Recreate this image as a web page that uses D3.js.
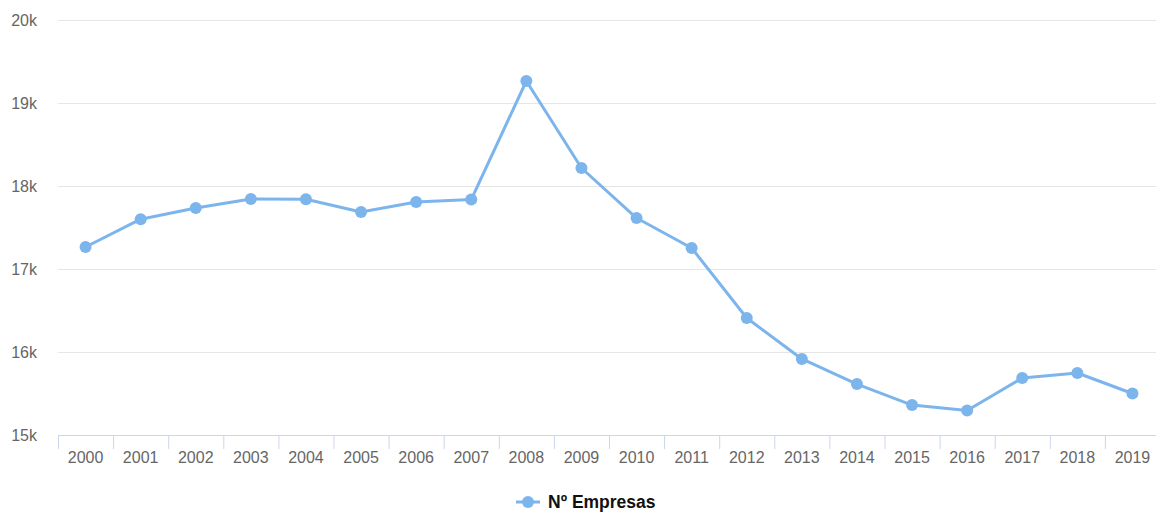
<!DOCTYPE html>
<html>
<head>
<meta charset="utf-8">
<script src="https://cdn.jsdelivr.net/npm/d3@7"></script>
<style>
  body { margin: 0; background: #fff; }
  svg { font-family: "Liberation Sans", Arial, sans-serif; }
</style>
</head>
<body>
<div id="chart"></div>
<script>
// chart data
var years = ['2000', '2001', '2002', '2003', '2004', '2005', '2006', '2007', '2008', '2009',
    '2010', '2011', '2012', '2013', '2014', '2015', '2016', '2017', '2018', '2019'];
var empresas = [17265, 17600, 17735, 17843, 17840, 17687, 17807, 17837, 19265, 18217,
    17614, 17253, 16410, 15916, 15614, 15361, 15295, 15687, 15747, 15500];
var yTicks = [15000, 16000, 17000, 18000, 19000, 20000];
var seriesName = 'Nº Empresas';

var width = 1156, height = 513;
var margin = { top: 20, right: 0, bottom: 78, left: 58 };
var innerW = 1102, innerH = height - margin.top - margin.bottom;

var svg = d3.select('#chart').append('svg')
    .attr('width', width)
    .attr('height', height);

var g = svg.append('g')
    .attr('transform', 'translate(' + margin.left + ',' + margin.top + ')');

var x = d3.scaleBand().domain(years).range([0, innerW]);
var y = d3.scaleLinear().domain([15000, 20000]).range([innerH, 0]);

// grid lines
g.selectAll('.grid')
    .data(yTicks)
    .enter().append('line')
    .attr('x1', 0)
    .attr('x2', innerW)
    .attr('y1', function (d) { return y(d) + 0.5; })
    .attr('y2', function (d) { return y(d) + 0.5; })
    .style('stroke', '#e6e6e6')
    .style('stroke-width', 1);

// y labels
g.selectAll('.ylab')
    .data(yTicks)
    .enter().append('text')
    .attr('x', -21)
    .attr('y', function (d) { return y(d) + 6; })
    .attr('text-anchor', 'end')
    .style('fill', '#666')
    .style('font-size', '16px')
    .text(function (d) { return (d / 1000) + 'k'; });

// x axis
var xAxis = d3.axisBottom(x).tickSize(0).tickPadding(0);
var xg = g.append('g')
    .attr('transform', 'translate(0,' + innerH + ')')
    .call(xAxis);
xg.select('.domain').remove();
xg.selectAll('text')
    .attr('y', 17)
    .style('fill', '#666')
    .style('font-size', '16px')
    .style('font-family', '"Liberation Sans", Arial, sans-serif');

xg.append('line')
    .attr('x1', 0).attr('x2', innerW)
    .attr('y1', 0.5).attr('y2', 0.5)
    .style('stroke', '#ccd6eb');

xg.selectAll('.tickmark')
    .data(years)
    .enter().append('line')
    .attr('x1', function (d) { return x(d) + 0.5; })
    .attr('x2', function (d) { return x(d) + 0.5; })
    .attr('y1', 0)
    .attr('y2', 14)
    .style('stroke', '#ccd6eb');

// series line
var line = d3.line()
    .x(function (d, i) { return x(years[i]) + x.bandwidth() / 2; })
    .y(function (d) { return y(d); });

g.append('path')
    .datum(empresas)
    .attr('d', line)
    .style('fill', 'none')
    .style('stroke', '#7cb5ec')
    .style('stroke-width', 3)
    .style('stroke-linejoin', 'round');

g.selectAll('.dot')
    .data(empresas)
    .enter().append('circle')
    .attr('cx', function (d, i) { return x(years[i]) + x.bandwidth() / 2; })
    .attr('cy', function (d) { return y(d); })
    .attr('r', 6)
    .style('fill', '#7cb5ec');

// legend
var legend = svg.append('g')
    .attr('transform', 'translate(530,502)');
legend.append('line')
    .attr('x1', -14).attr('x2', 10)
    .attr('y1', 0).attr('y2', 0)
    .style('stroke', '#7cb5ec')
    .style('stroke-width', 3);
legend.append('circle')
    .attr('cx', -2).attr('cy', 0).attr('r', 6)
    .style('fill', '#7cb5ec');
legend.append('text')
    .attr('x', 18)
    .attr('y', 6)
    .style('font-size', '17.5px')
    .style('font-weight', 'bold')
    .style('fill', '#111')
    .text(seriesName);
</script>
</body>
</html>
